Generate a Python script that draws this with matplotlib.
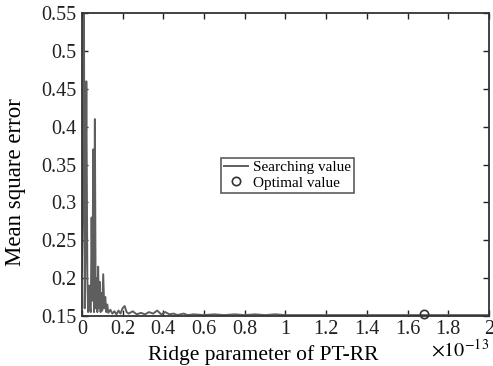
import numpy as np
import matplotlib
matplotlib.use("Agg")
import matplotlib.pyplot as plt

plt.rcParams['font.family'] = ['Liberation Serif', 'DejaVu Serif']
plt.rcParams['mathtext.fontset'] = 'stix'

# Ridge parameter (x1e-13) and mean square error of the search
ridge = [0.000, 0.005, 0.010, 0.014, 0.018, 0.022, 0.027, 0.031, 0.036, 0.040,
         0.044, 0.048, 0.052, 0.056, 0.060, 0.064, 0.068, 0.072, 0.076, 0.080,
         0.084, 0.088, 0.092, 0.096, 0.100, 0.105, 0.110, 0.115, 0.120, 0.125,
         0.130, 0.140, 0.150, 0.160, 0.170, 0.180, 0.190, 0.200, 0.210, 0.220,
         0.230, 0.250, 0.270, 0.290, 0.310, 0.330, 0.350, 0.370, 0.390, 0.410,
         0.430, 0.450, 0.470, 0.500, 0.520, 0.550, 0.600, 0.650, 0.700, 0.750,
         0.800, 0.850, 0.900, 0.950, 1.000, 1.200, 1.400, 1.600, 1.800, 2.000]
mse = [0.210, 0.300, 0.600, 0.160, 0.250, 0.460, 0.200, 0.155, 0.190, 0.160,
       0.155, 0.280, 0.170, 0.370, 0.155, 0.410, 0.160, 0.200, 0.155, 0.215,
       0.160, 0.195, 0.155, 0.180, 0.157, 0.205, 0.160, 0.175, 0.155, 0.165,
       0.154, 0.158, 0.153, 0.156, 0.152, 0.157, 0.153, 0.160, 0.163, 0.155,
       0.153, 0.156, 0.152, 0.154, 0.152, 0.155, 0.153, 0.157, 0.152, 0.155,
       0.152, 0.153, 0.151, 0.153, 0.151, 0.152, 0.151, 0.152, 0.151, 0.152,
       0.151, 0.152, 0.151, 0.152, 0.151, 0.151, 0.151, 0.151, 0.151, 0.151]

opt_ridge = [1.68]
opt_mse = [0.152]

fig = plt.figure(figsize=(4.93, 3.66), dpi=100)
ax = fig.add_axes([0.166, 0.137, 0.826, 0.827])

ax.plot(ridge, mse, color='#5e5e5e', linewidth=1.4, label='Searching value')
ax.plot(opt_ridge, opt_mse, linestyle='none', marker='o', markersize=6,
        markerfacecolor='none', markeredgecolor='#333333', markeredgewidth=1.2,
        label='Optimal value', clip_on=False)

ax.set_xlim(0, 2)
ax.set_ylim(0.15, 0.55)
ax.set_xticks(np.arange(0, 2.01, 0.2))
ax.set_xticklabels(['0', '0.2', '0.4', '0.6', '0.8', '1', '1.2', '1.4', '1.6', '1.8', '2'])
ax.set_yticks(np.arange(0.15, 0.551, 0.05))
ax.set_yticklabels(['0.15', '0.2', '0.25', '0.3', '0.35', '0.4', '0.45', '0.5', '0.55'])
ax.tick_params(direction='in', top=True, right=True, length=4, width=1,
               labelsize=14.5, colors='#222222')
ax.tick_params(axis='x', pad=3)
ax.tick_params(axis='y', pad=4)
for s in ax.spines.values():
    s.set_linewidth(1.3)
    s.set_color('#333333')

ax.set_xlabel('Ridge parameter of PT-RR', fontsize=15.5)
ax.xaxis.set_label_coords(0.445, -0.095)
ax.set_ylabel('Mean square error', fontsize=16.5)
ax.yaxis.set_label_coords(-0.138, 0.442)
ax.text(1.0, -0.112, r'$\times10^{-13}$', transform=ax.transAxes,
        ha='right', va='center', fontsize=14.5)

leg = ax.legend(loc='center', bbox_to_anchor=(0.505, 0.465), fontsize=11,
                frameon=True, fancybox=False, handlelength=1.6,
                handletextpad=0.3, borderpad=0.2, labelspacing=0.1)
leg.get_frame().set_edgecolor('#333333')
leg.get_frame().set_linewidth(1.2)

fig.savefig('out.png', dpi=100)
